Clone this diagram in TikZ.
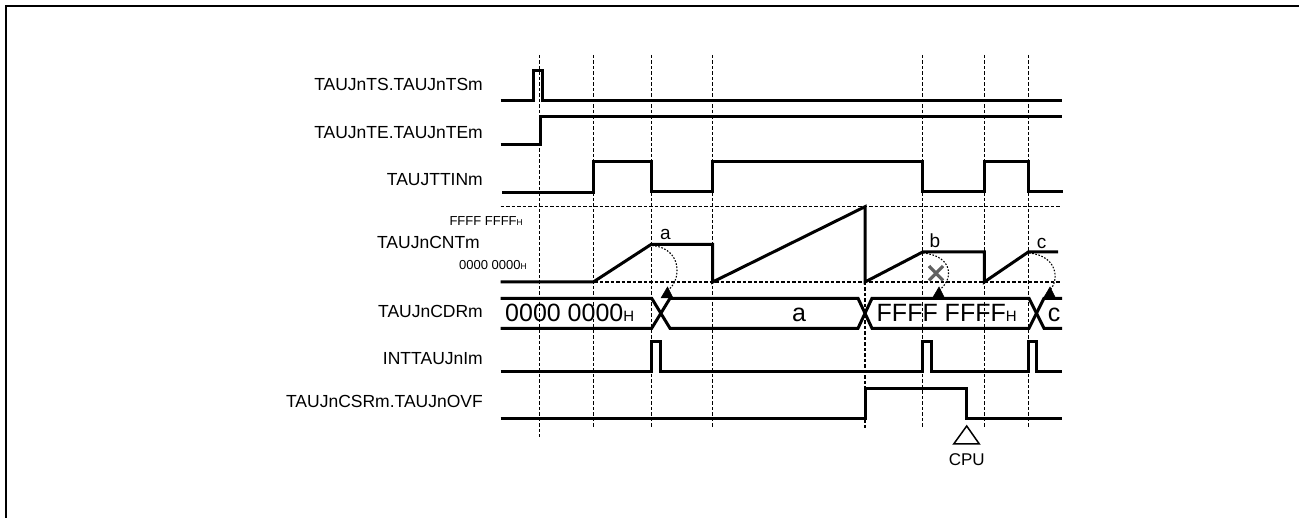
\documentclass[tikz,border=0pt]{standalone}
\usepackage{fontspec}
\setmainfont{Liberation Sans}
\begin{document}
\begin{tikzpicture}[x=1pt,y=-1pt,
  frameline/.style={line width=1.6pt},
  sig/.style={line width=3pt, line join=miter},
  gridv/.style={line width=1.5pt, dash pattern=on 3.5pt off 2pt},
  siglabel/.style={anchor=base east, inner sep=0pt, font=\fontsize{17.5}{20}\selectfont},
  lvllabel/.style={anchor=base east, inner sep=0pt, font=\fontsize{13}{15}\selectfont},
  ptlabel/.style={anchor=base, inner sep=0pt, font=\fontsize{19}{22}\selectfont},
  datalabel/.style={inner sep=0pt, font=\fontsize{25}{28}\selectfont},
  capt/.style={line width=1.1pt, dash pattern=on 1.6pt off 1.6pt},
  tipfill/.style={fill=black, draw=black, line width=0.5pt},
  crossmark/.style={line width=3.2pt, draw=black!62}
]
\newcommand{\smallH}[1]{{\fontsize{#1}{#1}\selectfont H}}
\useasboundingbox (0,0) rectangle (1299,518);
% frame
\draw[frameline] (6,518) -- (6,6) -- (1299,6);

% vertical grid lines
\draw[gridv] (539.3,55) -- (539.3,437);
\foreach \xx in {593.3,651.3,712.7,922.7,984.3,1028.3}
  \draw[gridv] (\xx,55) -- (\xx,428);
\draw[gridv] (865,282) -- (865,430);
% horizontal grid lines
\draw[gridv] (500.7,206.7) -- (1060,206.7);
\draw[gridv] (500.7,282) -- (1060,282);

% signal labels
\node[siglabel] (lts)   at (483,91)    {TAUJnTS.TAUJnTSm};
\node[siglabel] (lte)   at (483,138.5) {TAUJnTE.TAUJnTEm};
\node[siglabel] (ltin)  at (483,185.5) {TAUJTTINm};
\node[siglabel] (lcnt)  at (480,248.5) {TAUJnCNTm};
\node[siglabel] (lcdr)  at (483,318)   {TAUJnCDRm};
\node[siglabel] (lint)  at (483,365)   {INTTAUJnIm};
\node[siglabel] (lcsr)  at (483,408)   {TAUJnCSRm.TAUJnOVF};
\node[lvllabel] (lmax)  at (523,225.7) {FFFF FFFF\smallH{8.5}};
\node[lvllabel] (lmin)  at (527,270)   {0000 0000\smallH{8.5}};

% TS
\draw[sig] (500.7,101) -- (533,101) -- (533,71) -- (542,71) -- (542,101) -- (1062,101);
% TE
\draw[sig] (500.7,145) -- (540,145) -- (540,116.7) -- (1062,116.7);
% TTIN
\draw[sig] (502,192.5) -- (593.3,192.5) -- (593.3,162) -- (651.3,162) -- (651.3,191.5)
  -- (712.7,191.5) -- (712.7,162) -- (922.7,162) -- (922.7,191.5) -- (984.3,191.5)
  -- (984.3,162) -- (1028.3,162) -- (1028.3,191.5) -- (1063,191.5);
% CNT
\draw[sig] (500.7,282) -- (593.3,282) -- (651.3,244.3) -- (712.7,244.3) -- (712.7,282)
  -- (865,206.7) -- (865,282) -- (922.7,252) -- (984.3,252) -- (984.3,282)
  -- (1028.3,252) -- (1058,252);
\node[ptlabel] (pa) at (665.5,240) {a};
\node[ptlabel] (pb) at (935,248)   {b};
\node[ptlabel] (pc) at (1041.5,249) {c};

% CDR
\draw[sig] (500.7,298.3) -- (651.7,298.3) -- (670,328.3) -- (858,328.3) -- (872,298.3)
  -- (1029,298.3) -- (1044,328.3) -- (1062,328.3);
\draw[sig] (500.7,328.3) -- (651.7,328.3) -- (670,298.3) -- (858,298.3) -- (872,328.3)
  -- (1029,328.3) -- (1044,298.3) -- (1062,298.3);
\node[datalabel, anchor=base west] (d0) at (505,321.7) {0000 0000\smallH{15}};
\node[datalabel, anchor=base] (da) at (799,321.7) {a};
\node[datalabel, anchor=base west] (df) at (876.5,321.7) {FFFF FFFF\smallH{15}};
\node[datalabel, anchor=base] (dc) at (1054,321.7) {c};

% capture arcs
\draw[capt] (652,245.5) .. controls (682,248) and (682,280) .. (668,290);
\draw[tipfill] (667.5,287) -- (673,298) -- (661,298) -- cycle;
\draw[capt] (923,253) .. controls (953.7,256) and (953.7,280) .. (939,290);
\draw[tipfill] (939,287) -- (944.5,298) -- (932.5,298) -- cycle;
\draw[capt] (1029,253) .. controls (1058.8,256) and (1058.8,281) .. (1050,290);
\draw[tipfill] (1050,287) -- (1055.5,298) -- (1043.5,298) -- cycle;
% cross mark at b
\draw[crossmark] (929,266) -- (943,280.5) (943,266) -- (929,280.5);

% INT
\draw[sig] (500.7,371.7) -- (651.3,371.7) -- (651.3,341.7) -- (660,341.7) -- (660,371.7)
  -- (922.7,371.7) -- (922.7,341.7) -- (931.7,341.7) -- (931.7,371.7)
  -- (1028.3,371.7) -- (1028.3,341.7) -- (1036.7,341.7) -- (1036.7,371.7) -- (1062,371.7);
% CSR
\draw[sig] (500.7,418.3) -- (865,418.3) -- (865,388.3) -- (966.7,388.3) -- (966.7,418.3) -- (1062,418.3);

% CPU
\draw[line width=1.5pt] (966.7,426) -- (979.3,444) -- (953.7,444) -- cycle;
\node[anchor=base, inner sep=0pt, font=\fontsize{17}{20}\selectfont] (cpu) at (966.7,466) {CPU};
\end{tikzpicture}
\end{document}
